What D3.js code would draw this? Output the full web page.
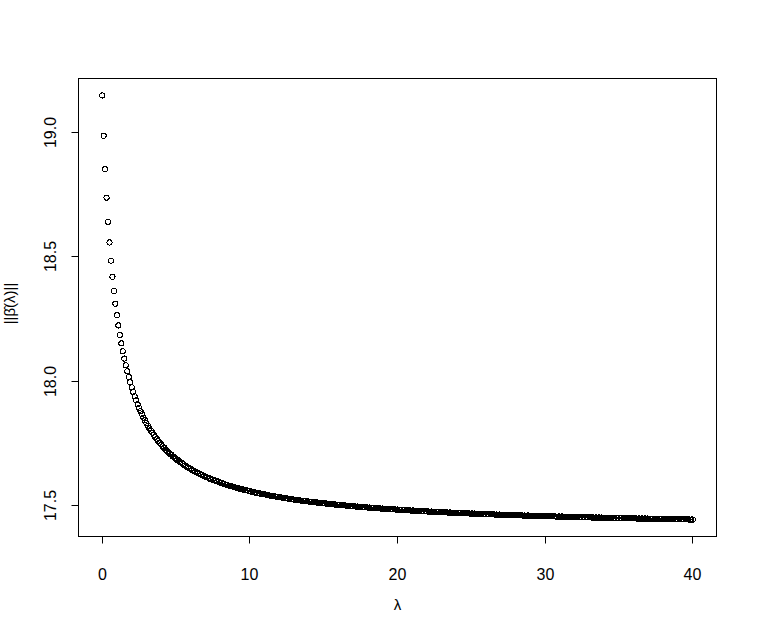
<!doctype html>
<html>
<head>
<meta charset="utf-8">
<title>Ridge norm</title>
<script src="https://cdn.jsdelivr.net/npm/d3@7"></script>
<style>
  body { margin: 0; background: #fff; }
  svg text { font-family: "Liberation Sans", Arial, sans-serif; fill: #000; }
</style>
</head>
<body>
<svg id="chart" width="757" height="634"></svg>
<script>
// lambda grid 0, 0.1, ..., 40
const lambda = d3.range(401).map(i => +(i / 10).toFixed(1))

// ||beta(lambda)||, one value per lambda
const betaNorm = [
  19.147, 18.985, 18.851, 18.737, 18.640, 18.557, 18.484, 18.419, 18.362, 18.311,
  18.265, 18.224, 18.186, 18.152, 18.120, 18.091, 18.064, 18.040, 18.017, 17.996,
  17.976, 17.957, 17.940, 17.923, 17.908, 17.893, 17.880, 17.867, 17.854, 17.843,
  17.832, 17.821, 17.811, 17.802, 17.793, 17.784, 17.776, 17.768, 17.760, 17.753,
  17.746, 17.739, 17.733, 17.726, 17.720, 17.715, 17.709, 17.704, 17.698, 17.693,
  17.689, 17.684, 17.679, 17.675, 17.671, 17.667, 17.662, 17.659, 17.655, 17.651,
  17.648, 17.644, 17.641, 17.638, 17.634, 17.631, 17.628, 17.625, 17.623, 17.620,
  17.617, 17.614, 17.612, 17.609, 17.607, 17.605, 17.602, 17.600, 17.598, 17.595,
  17.593, 17.591, 17.589, 17.587, 17.585, 17.583, 17.581, 17.580, 17.578, 17.576,
  17.574, 17.573, 17.571, 17.569, 17.568, 17.566, 17.565, 17.563, 17.562, 17.560,
  17.559, 17.557, 17.556, 17.555, 17.553, 17.552, 17.551, 17.549, 17.548, 17.547,
  17.546, 17.545, 17.543, 17.542, 17.541, 17.540, 17.539, 17.538, 17.537, 17.536,
  17.535, 17.534, 17.533, 17.532, 17.531, 17.530, 17.529, 17.528, 17.527, 17.526,
  17.525, 17.525, 17.524, 17.523, 17.522, 17.521, 17.520, 17.520, 17.519, 17.518,
  17.517, 17.517, 17.516, 17.515, 17.514, 17.514, 17.513, 17.512, 17.512, 17.511,
  17.510, 17.510, 17.509, 17.508, 17.508, 17.507, 17.506, 17.506, 17.505, 17.505,
  17.504, 17.503, 17.503, 17.502, 17.502, 17.501, 17.500, 17.500, 17.499, 17.499,
  17.498, 17.498, 17.497, 17.497, 17.496, 17.496, 17.495, 17.495, 17.494, 17.494,
  17.493, 17.493, 17.492, 17.492, 17.491, 17.491, 17.491, 17.490, 17.490, 17.489,
  17.489, 17.488, 17.488, 17.488, 17.487, 17.487, 17.486, 17.486, 17.486, 17.485,
  17.485, 17.484, 17.484, 17.484, 17.483, 17.483, 17.483, 17.482, 17.482, 17.481,
  17.481, 17.481, 17.480, 17.480, 17.480, 17.479, 17.479, 17.479, 17.478, 17.478,
  17.478, 17.477, 17.477, 17.477, 17.476, 17.476, 17.476, 17.476, 17.475, 17.475,
  17.475, 17.474, 17.474, 17.474, 17.473, 17.473, 17.473, 17.473, 17.472, 17.472,
  17.472, 17.472, 17.471, 17.471, 17.471, 17.470, 17.470, 17.470, 17.470, 17.469,
  17.469, 17.469, 17.469, 17.468, 17.468, 17.468, 17.468, 17.467, 17.467, 17.467,
  17.467, 17.466, 17.466, 17.466, 17.466, 17.466, 17.465, 17.465, 17.465, 17.465,
  17.464, 17.464, 17.464, 17.464, 17.464, 17.463, 17.463, 17.463, 17.463, 17.463,
  17.462, 17.462, 17.462, 17.462, 17.462, 17.461, 17.461, 17.461, 17.461, 17.461,
  17.460, 17.460, 17.460, 17.460, 17.460, 17.459, 17.459, 17.459, 17.459, 17.459,
  17.459, 17.458, 17.458, 17.458, 17.458, 17.458, 17.458, 17.457, 17.457, 17.457,
  17.457, 17.457, 17.457, 17.456, 17.456, 17.456, 17.456, 17.456, 17.456, 17.455,
  17.455, 17.455, 17.455, 17.455, 17.455, 17.454, 17.454, 17.454, 17.454, 17.454,
  17.454, 17.454, 17.453, 17.453, 17.453, 17.453, 17.453, 17.453, 17.453, 17.452,
  17.452, 17.452, 17.452, 17.452, 17.452, 17.452, 17.451, 17.451, 17.451, 17.451,
  17.451, 17.451, 17.451, 17.451, 17.450, 17.450, 17.450, 17.450, 17.450, 17.450,
  17.450, 17.450, 17.449, 17.449, 17.449, 17.449, 17.449, 17.449, 17.449, 17.449,
  17.448, 17.448, 17.448, 17.448, 17.448, 17.448, 17.448, 17.448, 17.448, 17.447,
  17.447, 17.447, 17.447, 17.447, 17.447, 17.447, 17.447, 17.447, 17.446, 17.446,
  17.446, 17.446, 17.446, 17.446, 17.446, 17.446, 17.446, 17.445, 17.445, 17.445,
  17.445
]

const xTicks = [0, 10, 20, 30, 40]
const yTicks = [17.5, 18.0, 18.5, 19.0]
const xTitle = 'λ'
const yTitle = '||β\u0302(λ)||'

const svg = d3.select('#chart')
const box = { left: 78.5, right: 716.5, top: 78.5, bottom: 536.5 }

// R style: pad the data range by 4% on each side
function padded (ext) {
  let d = (ext[1] - ext[0]) * 0.04
  return [ext[0] - d, ext[1] + d]
}

const x = d3.scaleLinear()
  .domain(padded(d3.extent(lambda)))
  .range([box.left, box.right])

const y = d3.scaleLinear()
  .domain(padded(d3.extent(betaNorm)))
  .range([box.bottom, box.top])

const crisp = v => Math.round(v - 0.5) + 0.5

// points, unsmoothed like the R device
svg.append('g')
  .attr('shape-rendering', 'crispEdges')
  .selectAll('circle')
  .data(lambda)
  .join('circle')
  .attr('cx', (d, i) => x(d))
  .attr('cy', (d, i) => y(betaNorm[i]))
  .attr('r', 2.6)
  .attr('fill', 'none')
  .attr('stroke', '#000')
  .attr('stroke-width', 1)

// box
svg.append('rect')
  .attr('x', box.left)
  .attr('y', box.top)
  .attr('width', box.right - box.left)
  .attr('height', box.bottom - box.top)
  .attr('fill', 'none')
  .attr('stroke', '#000')
  .attr('stroke-width', 1)

// x axis
const gx = svg.append('g')
  .attr('transform', `translate(0,${box.bottom})`)
  .call(d3.axisBottom(x).tickValues(xTicks).tickSize(7).tickPadding(25).tickFormat(d3.format('d')))
gx.select('.domain').remove()
gx.selectAll('.tick').attr('transform', d => `translate(${crisp(x(d))},0)`)
gx.selectAll('.tick line').attr('stroke', '#000')
gx.selectAll('.tick text').attr('font-size', 16).attr('font-family', '"Liberation Sans", Arial, sans-serif')

// y axis
const gy = svg.append('g')
  .attr('transform', `translate(${box.left},0)`)
  .call(d3.axisLeft(y).tickValues(yTicks).tickSize(7).tickFormat(d3.format('.1f')))
gy.select('.domain').remove()
gy.selectAll('.tick').attr('transform', d => `translate(0,${crisp(y(d))})`)
gy.selectAll('.tick line').attr('stroke', '#000')
gy.selectAll('.tick text')
  .attr('x', null).attr('dy', null)
  .attr('transform', 'translate(-23,0) rotate(-90)')
  .attr('text-anchor', 'middle')
  .attr('font-size', 16)
  .attr('font-family', '"Liberation Sans", Arial, sans-serif')

// titles
svg.append('text')
  .attr('x', (box.left + box.right) / 2)
  .attr('y', 610)
  .attr('text-anchor', 'middle')
  .attr('font-size', 15)
  .text(xTitle)

svg.append('text')
  .attr('transform', `translate(15,${(box.top + box.bottom) / 2 - 4}) rotate(-90)`)
  .attr('text-anchor', 'middle')
  .attr('font-size', 15)
  .text(yTitle)
</script>
</body>
</html>
